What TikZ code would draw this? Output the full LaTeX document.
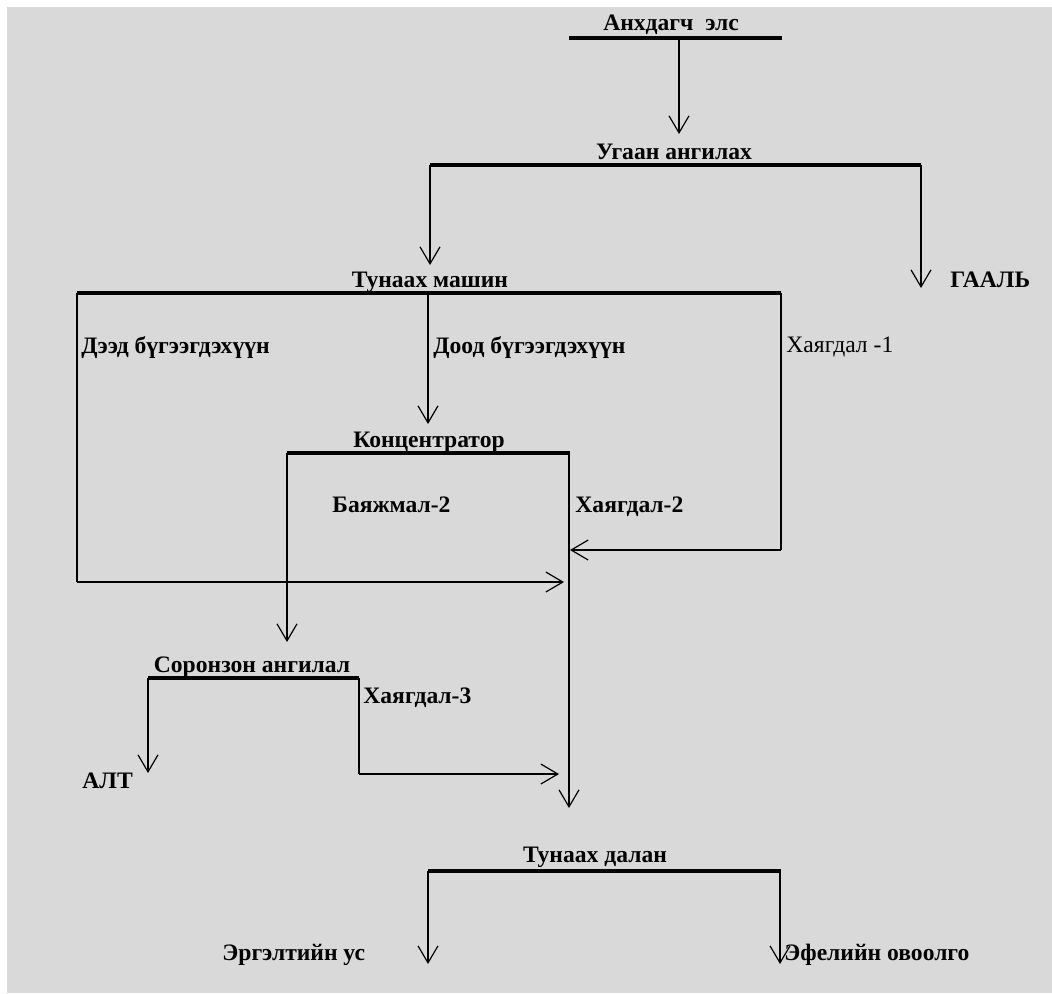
\documentclass[tikz,border=0pt]{standalone}
\usepackage{fontspec}
\setmainfont{Liberation Serif}
\usetikzlibrary{arrows.meta}
\definecolor{bg}{RGB}{217,217,217}
\begin{document}
\begin{tikzpicture}[x=0.5pt,y=-0.5pt,
  bar/.style={line width=2pt},
  flow/.style={line width=0.6pt,-{Straight Barb[length=8.5pt,width=10pt,line width=0.6pt]}},
  side/.style={line width=1pt},
  fnt/.style={font=\fontsize{11.8}{13}\selectfont\bfseries},
  lbl/.style={fnt, inner sep=0pt, anchor=base west},
  plain/.style={font=\fontsize{11.8}{13}\selectfont, inner sep=0pt, anchor=base west},
  ttl/.style={fnt, inner sep=0pt, anchor=base},
]
\useasboundingbox (0,0) rectangle (1052,993);
\fill[bg] (7,7) rectangle (1052,993);

% titles
\node[ttl] (t1) at (671,30) {Анхдагч\ \ элс};
\node[ttl] (t2) at (674,159) {Угаан ангилах};
\node[ttl] (t3) at (430,287) {Тунаах машин};
\node[ttl] (t4) at (429,447) {Концентратор};
\node[ttl] (t5) at (252,672) {Соронзон ангилал};
\node[ttl] (t6) at (595,862) {Тунаах далан};

% bars
\coordinate (b1l) at (569,38);  \coordinate (b1r) at (782,38);
\coordinate (b2l) at (430,165); \coordinate (b2r) at (921,165);
\coordinate (b3l) at (77,293);  \coordinate (b3r) at (781,293);
\coordinate (b4l) at (287,453); \coordinate (b4r) at (570,453);
\coordinate (b5l) at (148,678); \coordinate (b5r) at (359,678);
\coordinate (b6l) at (428,871); \coordinate (b6r) at (781,871);
\foreach \i in {1,...,6} {\draw[bar] (b\i l) -- (b\i r);}

% connector points
\coordinate (s1) at (679,38);  \coordinate (e1) at (679,134);
\coordinate (e2) at (430,265);
\coordinate (e3) at (921,288);
\coordinate (s4) at (428,293); \coordinate (e4) at (428,424);
\coordinate (c5) at (77,582);  \coordinate (e5) at (564,582);
\coordinate (c6) at (781,550); \coordinate (e6) at (570,550);
\coordinate (s7) at (569,453); \coordinate (e7) at (569,808);
\coordinate (e8) at (287,642);
\coordinate (e9) at (148,773);
\coordinate (c10) at (359,774); \coordinate (e10) at (559,774);
\coordinate (e11) at (428,964);
\coordinate (s12) at (780,871); \coordinate (e12) at (780,964);

\draw[flow] (s1) -- (e1);
\draw[flow] (b2l) -- (e2);
\draw[flow] (b2r) -- (e3);
\draw[flow] (s4) -- (e4);
\draw[side] (b3l) -- (c5);
\draw[flow] (c5) -- (e5);
\draw[side] (b3r) -- (c6);
\draw[flow] (c6) -- (e6);
\draw[flow,line width=0.8pt] (s7) -- (e7);
\draw[flow] (b4l) -- (e8);
\draw[flow] (b5l) -- (e9);
\draw[side] (b5r) -- (c10);
\draw[flow] (c10) -- (e10);
\draw[flow] (b6l) -- (e11);
\draw[flow] (s12) -- (e12);

% labels
\node[lbl] (l1) at (81,353) {Дээд бүгээгдэхүүн};
\node[lbl] (l2) at (433,353) {Доод бүгээгдэхүүн};
\node[plain] (l3) at (786,352) {Хаягдал -1};
\node[lbl] (l4) at (332,512) {Баяжмал-2};
\node[lbl] (l5) at (575,512) {Хаягдал-2};
\node[lbl] (l6) at (363,703) {Хаягдал-3};
\node[lbl] (l7) at (82,788) {АЛТ};
\node[lbl] (l8) at (950,287) {ГААЛЬ};
\node[lbl] (l9) at (222,960) {Эргэлтийн ус};
\node[lbl] (l10) at (784,960) {Эфелийн овоолго};
\end{tikzpicture}
\end{document}
